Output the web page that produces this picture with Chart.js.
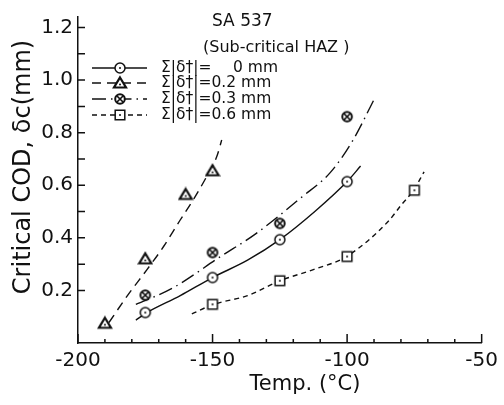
<!DOCTYPE html>
<html>
<head>
<meta charset="utf-8">
<script src="https://cdn.jsdelivr.net/npm/chart.js@4.4.1/dist/chart.umd.min.js"></script>
<style>
  html, body { margin: 0; padding: 0; background: #fff; }
  #wrap { width: 504px; height: 405px; }
</style>
</head>
<body>
<div id="wrap"><canvas id="codChart" width="504" height="405"></canvas></div>
<script>
// measured points (temperature in deg C, critical COD in mm)
const temp0 = [-175, -150, -125, -100];
const cod0 = [0.116, 0.249, 0.393, 0.614];
const temp02 = [-190, -175, -160, -150];
const cod02 = [0.075, 0.32, 0.565, 0.655];
const temp03 = [-175, -150, -125, -100];
const cod03 = [0.182, 0.344, 0.455, 0.861];
const temp06 = [-150, -125, -100, -75];
const cod06 = [0.147, 0.237, 0.329, 0.581];

// fitted curves
const curve0T = [-178.5, -175, -162, -150, -137, -125, -112, -100, -95];
const curve0V = [0.087, 0.112, 0.18, 0.249, 0.315, 0.393, 0.5, 0.614, 0.673];
const curve02T = [-188.5, -181.5, -174.3, -168.2, -162.2, -156.8, -152, -148.4, -146.6];
const curve02V = [0.078, 0.182, 0.28, 0.367, 0.465, 0.551, 0.637, 0.71, 0.772];
const curve03T = [-178.5, -165, -147, -134, -117.1, -106.2, -97.8, -89.6];
const curve03V = [0.147, 0.208, 0.329, 0.415, 0.553, 0.649, 0.772, 0.934];
const curve06T = [-157.7, -149.6, -137, -124.9, -112.3, -100.2, -84.6, -79.8, -75.3, -71.4];
const curve06V = [0.111, 0.147, 0.18, 0.237, 0.28, 0.329, 0.464, 0.526, 0.581, 0.651];

const seriesNames = ['0 mm', '0.2 mm', '0.3 mm', '0.6 mm'];
const legendPrefix = 'Σ|δ†|=';
const titleText = 'SA 537';
const subtitleText = '(Sub-critical HAZ )';
const xTitle = 'Temp. (°C)';
const yTitle = 'Critical COD, δc(mm)';

// axis ticks
const xLabelTicks = [-200, -150, -100, -50];
const xMinorTicks = [-190, -180, -170, -160, -140, -130, -120, -110, -90, -80, -70, -60];
const yLabelTicks = [0.2, 0.4, 0.6, 0.8, 1.0, 1.2];
const yMarkTicks = [0.2, 0.3, 0.4, 0.5, 0.6, 0.7, 0.8, 0.9, 1.0, 1.1, 1.2];

const ink = '#111';
const font = "'DejaVu Sans', sans-serif";
const dashes = [[], [9, 6], [14, 5, 1.5, 5], [5, 4]];

function toPts(xs, ys) {
    return xs.map((x, i) => ({ x: x, y: ys[i] }));
}

function makeMarker(kind) {
    const c = document.createElement('canvas');
    c.width = 16;
    c.height = 16;
    const g = c.getContext('2d');
    const m = 8;
    g.strokeStyle = ink;
    g.fillStyle = '#fff';
    g.lineWidth = 1.5;
    g.beginPath();
    if (kind === 'circle') {
        g.arc(m, m, 5, 0, 2 * Math.PI);
    } else if (kind === 'triangle') {
        g.lineWidth = 2.2;
        g.moveTo(m, 2.5);
        g.lineTo(m + 6, 12.5);
        g.lineTo(m - 6, 12.5);
        g.closePath();
    } else if (kind === 'crossed') {
        g.lineWidth = 2;
        g.arc(m, m, 4.8, 0, 2 * Math.PI);
    } else {
        g.rect(m - 4.8, m - 4.8, 9.6, 9.6);
    }
    g.fill();
    g.stroke();
    g.fillStyle = ink;
    if (kind === 'crossed') {
        g.lineWidth = 1.7;
        g.beginPath();
        g.moveTo(m - 3, m - 3); g.lineTo(m + 3, m + 3);
        g.moveTo(m + 3, m - 3); g.lineTo(m - 3, m + 3);
        g.stroke();
    } else {
        g.beginPath();
        g.arc(m, kind === 'triangle' ? 9.5 : m, 1, 0, 2 * Math.PI);
        g.fill();
    }
    return c;
}

const markers = [makeMarker('circle'), makeMarker('triangle'), makeMarker('crossed'), makeMarker('square')];

const markerSets = [[temp0, cod0], [temp02, cod02], [temp03, cod03], [temp06, cod06]];
const curveSets = [[curve0T, curve0V], [curve02T, curve02V], [curve03T, curve03V], [curve06T, curve06V]];

const datasets = [];
markerSets.forEach((s, i) => {
    datasets.push({
        label: seriesNames[i],
        data: toPts(s[0], s[1]),
        showLine: false,
        pointStyle: markers[i],
        order: 0
    });
});
curveSets.forEach((s, i) => {
    datasets.push({
        label: seriesNames[i] + ' fit',
        data: toPts(s[0], s[1]),
        showLine: true,
        borderColor: ink,
        borderWidth: 1.4,
        borderDash: dashes[i],
        pointRadius: 0,
        cubicInterpolationMode: 'monotone',
        fill: false,
        order: 1
    });
});

// inward ticks, titles and the in-plot legend
const decorPlugin = {
    id: 'decor',
    afterDraw: function (chart) {
        const ctx = chart.ctx;
        const xs = chart.scales.x;
        const ys = chart.scales.y;
        ctx.save();
        ctx.strokeStyle = ink;
        ctx.lineWidth = 1.5;
        ctx.beginPath();
        yMarkTicks.forEach(v => {
            const py = ys.getPixelForValue(v);
            ctx.moveTo(xs.left, py);
            ctx.lineTo(xs.left + 7, py);
        });
        xLabelTicks.forEach(v => {
            const px = xs.getPixelForValue(v);
            ctx.moveTo(px, ys.bottom);
            ctx.lineTo(px, ys.bottom - 9);
        });
        xMinorTicks.forEach(v => {
            const px = xs.getPixelForValue(v);
            ctx.moveTo(px, ys.bottom);
            ctx.lineTo(px, ys.bottom - 4);
        });
        ctx.stroke();

        ctx.fillStyle = ink;
        ctx.textBaseline = 'middle';
        ctx.textAlign = 'left';
        ctx.font = '17px ' + font;
        ctx.fillText(titleText, 212, 22);
        ctx.font = '16px ' + font;
        ctx.fillText(subtitleText, 203, 48);

        ctx.textAlign = 'center';
        ctx.font = '21px ' + font;
        ctx.fillText(xTitle, 305, 385);
        ctx.save();
        ctx.translate(24, 167);
        ctx.rotate(-Math.PI / 2);
        ctx.font = '24px ' + font;
        ctx.fillText(yTitle, 0, 0);
        ctx.restore();

        // legend
        const rowsY = [68, 83, 99, 115];
        ctx.textAlign = 'left';
        ctx.font = '15.5px ' + font;
        seriesNames.forEach((name, i) => {
            const y = rowsY[i];
            ctx.lineWidth = 1.4;
            ctx.setLineDash(dashes[i]);
            ctx.beginPath();
            ctx.moveTo(92, y);
            ctx.lineTo(147, y);
            ctx.stroke();
            ctx.setLineDash([]);
            ctx.drawImage(markers[i], 120 - 8, y - 8);
            if (i === 0) {
                ctx.fillText(legendPrefix, 161, y);
                ctx.fillText(name, 233, y);
            } else {
                ctx.fillText(legendPrefix + name, 161, y);
            }
        });
        ctx.restore();
    }
};

new Chart(document.getElementById('codChart'), {
    type: 'scatter',
    data: { datasets: datasets },
    options: {
        responsive: false,
        animation: false,
        layout: { padding: { top: 7, right: 12, left: 0, bottom: 0 } },
        plugins: {
            legend: { display: false },
            tooltip: { enabled: false }
        },
        scales: {
            x: {
                type: 'linear',
                min: -200,
                max: -50,
                grid: { display: false, drawTicks: false },
                border: { display: true, color: ink, width: 1.5 },
                afterBuildTicks: function (scale) {
                    scale.ticks = xLabelTicks.map(v => ({ value: v }));
                },
                afterFit: function (scale) { scale.height = 62; },
                ticks: {
                    autoSkip: false,
                    maxRotation: 0,
                    padding: 6,
                    color: ink,
                    font: { family: font, size: 20 },
                    callback: v => String(v)
                }
            },
            y: {
                type: 'linear',
                min: 0,
                max: 1.24,
                grid: { display: false, drawTicks: false },
                border: { display: true, color: ink, width: 1.5 },
                afterBuildTicks: function (scale) {
                    scale.ticks = yLabelTicks.map(v => ({ value: v }));
                },
                afterFit: function (scale) { scale.width = 78; },
                ticks: {
                    autoSkip: false,
                    padding: 5,
                    color: ink,
                    font: { family: font, size: 20 },
                    callback: v => v.toFixed(1)
                }
            }
        }
    },
    plugins: [decorPlugin]
});
</script>
</body>
</html>
